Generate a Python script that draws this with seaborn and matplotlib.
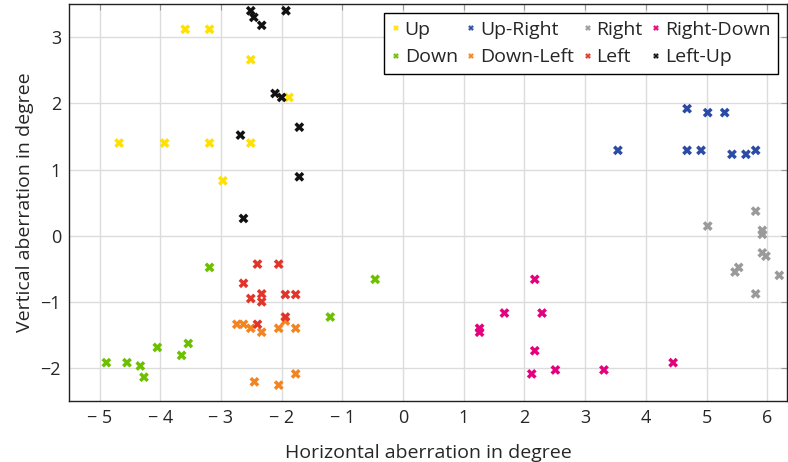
import matplotlib
matplotlib.use("Agg")
import matplotlib.pyplot as plt
import seaborn as sns
import pandas as pd

# aberration points per direction (degree)
up_x = [-3.59, -3.19, -2.51, -1.88, -4.68, -3.93, -3.19, -2.51, -2.97]
up_y = [3.12, 3.12, 2.66, 2.09, 1.40, 1.40, 1.40, 1.40, 0.83]

upright_x = [3.54, 4.68, 5.02, 5.30, 4.68, 4.91, 5.42, 5.65, 5.81]
upright_y = [1.29, 1.92, 1.86, 1.86, 1.29, 1.29, 1.23, 1.23, 1.29]

right_x = [5.02, 5.81, 5.92, 5.92, 5.92, 5.98, 5.53, 5.47, 6.20, 5.81]
right_y = [0.145, 0.37, 0.08, 0.02, -0.26, -0.31, -0.48, -0.55, -0.60, -0.88]

rightdown_x = [2.17, 1.67, 2.29, 1.26, 1.26, 2.17, 2.12, 2.51, 3.31, 4.45]
rightdown_y = [-0.66, -1.17, -1.17, -1.40, -1.46, -1.74, -2.09, -2.03, -2.03, -1.92]

down_x = [-3.19, -0.46, -1.20, -3.54, -4.05, -3.65, -4.89, -4.55, -4.33, -4.27]
down_y = [-0.48, -0.66, -1.23, -1.63, -1.69, -1.81, -1.92, -1.92, -1.97, -2.14]

downleft_x = [-2.74, -2.63, -2.51, -2.33, -2.05, -1.94, -1.77, -2.45, -2.05, -1.77]
downleft_y = [-1.34, -1.34, -1.40, -1.46, -1.40, -1.29, -1.40, -2.21, -2.26, -2.09]

left_x = [-2.40, -2.05, -2.63, -2.51, -2.33, -2.33, -1.94, -1.77, -1.94, -2.40]
left_y = [-0.43, -0.43, -0.72, -0.95, -0.88, -1.00, -0.89, -0.89, -1.23, -1.34]

leftup_x = [-2.51, -2.46, -2.33, -1.93, -2.11, -2.00, -1.71, -2.68, -1.71, -2.63]
leftup_y = [3.40, 3.30, 3.18, 3.40, 2.15, 2.09, 1.64, 1.52, 0.89, 0.26]

directions = ["Up", "Up-Right", "Right", "Right-Down",
              "Down", "Down-Left", "Left", "Left-Up"]
colors = ["#ffe000", "#2a4ba6", "#9a9a9a", "#e5007d",
          "#6cc000", "#f28522", "#e3342a", "#111111"]

xs = [up_x, upright_x, right_x, rightdown_x, down_x, downleft_x, left_x, leftup_x]
ys = [up_y, upright_y, right_y, rightdown_y, down_y, downleft_y, left_y, leftup_y]

df = pd.concat([pd.DataFrame({"x": x, "y": y, "direction": d})
                for x, y, d in zip(xs, ys, directions)], ignore_index=True)

sns.set_style("whitegrid")
plt.rcParams["font.family"] = ["Open Sans", "DejaVu Sans"]

fig = plt.figure(figsize=(7.88, 4.62), dpi=100)
ax = fig.add_axes([0.088, 0.132, 0.911, 0.859])

sns.scatterplot(data=df, x="x", y="y", hue="direction", hue_order=directions,
                palette=dict(zip(directions, colors)), marker="X", s=50,
                linewidth=0, ax=ax, legend=True, zorder=3)

ax.set_xlim(-5.5, 6.33)
ax.set_ylim(-2.5, 3.5)
xt = list(range(-5, 7))
ax.set_xticks(xt)
ax.set_xticklabels([("\u2212 %d" % -v) if v < 0 else str(v) for v in xt])
yt = list(range(-2, 4))
ax.set_yticks(yt)
ax.set_yticklabels([("\u2212%d" % -v) if v < 0 else str(v) for v in yt])
ax.tick_params(axis="both", direction="in", length=4, color="#999999",
               labelsize=13, top=True, right=True, pad=6)
ax.grid(True, color="#dcdcdc", linewidth=1)
for s in ax.spines.values():
    s.set_color("#222222")
    s.set_linewidth(1.0)

ax.set_xlabel("Horizontal aberration in degree", fontsize=14, labelpad=12)
ax.set_ylabel("Vertical aberration in degree", fontsize=14, labelpad=5)

handles, labels = ax.get_legend_handles_labels()
order = [0, 4, 1, 5, 2, 6, 3, 7]
leg = ax.legend([handles[i] for i in order], [labels[i] for i in order],
                ncol=4, loc="upper right", fontsize=14, frameon=True,
                fancybox=False, edgecolor="black", framealpha=1,
                handletextpad=0.25, columnspacing=0.5, handlelength=0.4,
                markerscale=0.6, borderaxespad=0.45, labelspacing=0.5,
                borderpad=0.4)
leg.get_frame().set_linewidth(1.0)

fig.savefig("out.png", dpi=100)
